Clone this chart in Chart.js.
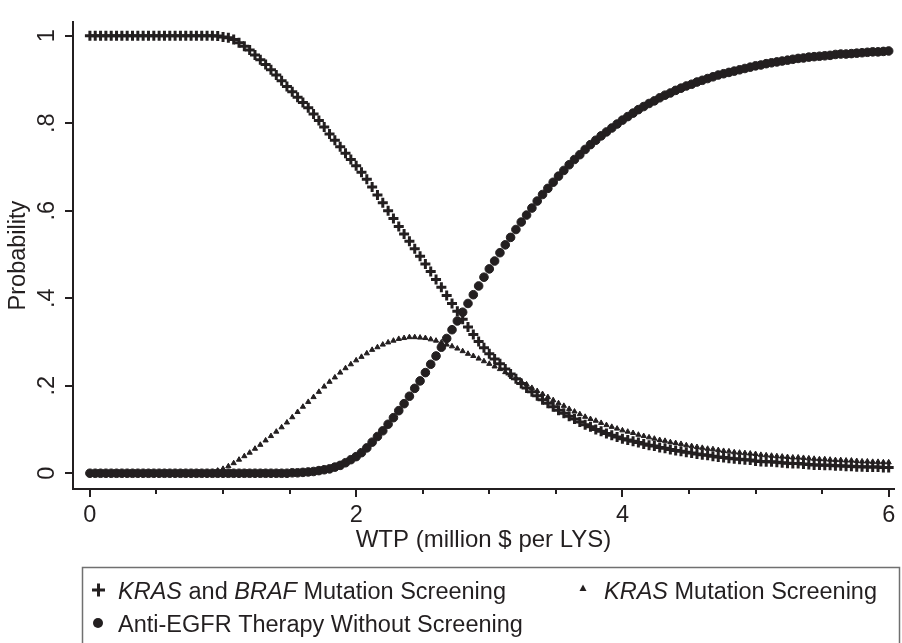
<!DOCTYPE html>
<html>
<head>
<meta charset="utf-8">
<script src="https://cdn.jsdelivr.net/npm/chart.js@4.4.1/dist/chart.umd.min.js"></script>
<style>
  body { margin: 0; background: #fff; }
  #wrap { width: 902px; height: 643px; position: relative; }
</style>
</head>
<body>
<div id="wrap"><canvas id="ceac"></canvas></div>
<script>
// WTP threshold (million $ per LYS)
const wtp = [
  0, 0.04, 0.08, 0.12, 0.16, 0.2, 0.24, 0.28, 0.32, 0.36, 0.4, 0.44, 0.48, 0.52, 0.56, 0.6, 0.64, 0.68, 0.72, 0.76, 0.8, 0.84, 0.88, 0.92, 0.96,
  1, 1.04, 1.08, 1.12, 1.16, 1.2, 1.24, 1.28, 1.32, 1.36, 1.4, 1.44, 1.48, 1.52, 1.56, 1.6, 1.64, 1.68, 1.72, 1.76, 1.8, 1.84, 1.88, 1.92, 1.96,
  2, 2.04, 2.08, 2.12, 2.16, 2.2, 2.24, 2.28, 2.32, 2.36, 2.4, 2.44, 2.48, 2.52, 2.56, 2.6, 2.64, 2.68, 2.72, 2.76, 2.8, 2.84, 2.88, 2.92, 2.96,
  3, 3.04, 3.08, 3.12, 3.16, 3.2, 3.24, 3.28, 3.32, 3.36, 3.4, 3.44, 3.48, 3.52, 3.56, 3.6, 3.64, 3.68, 3.72, 3.76, 3.8, 3.84, 3.88, 3.92, 3.96,
  4, 4.04, 4.08, 4.12, 4.16, 4.2, 4.24, 4.28, 4.32, 4.36, 4.4, 4.44, 4.48, 4.52, 4.56, 4.6, 4.64, 4.68, 4.72, 4.76, 4.8, 4.84, 4.88, 4.92, 4.96,
  5, 5.04, 5.08, 5.12, 5.16, 5.2, 5.24, 5.28, 5.32, 5.36, 5.4, 5.44, 5.48, 5.52, 5.56, 5.6, 5.64, 5.68, 5.72, 5.76, 5.8, 5.84, 5.88, 5.92, 5.96,
  6
];

// probability of being cost-effective
const krasBraf = [
  1, 1, 1, 1, 1, 1, 1, 1, 1, 1, 1, 1, 1, 1, 1, 1, 1, 1, 1, 1, 1, 1, 1, 1, 0.999,
  0.997, 0.995, 0.991, 0.984, 0.976, 0.967, 0.956, 0.945, 0.934, 0.922, 0.91, 0.897, 0.884, 0.872, 0.859, 0.847, 0.835, 0.821, 0.806, 0.791, 0.775, 0.761, 0.746, 0.731, 0.717,
  0.703, 0.688, 0.672, 0.654, 0.636, 0.618, 0.6, 0.582, 0.564, 0.547, 0.53, 0.513, 0.496, 0.478, 0.461, 0.443, 0.425, 0.406, 0.388, 0.37, 0.352, 0.334, 0.317, 0.301, 0.287,
  0.273, 0.261, 0.25, 0.238, 0.227, 0.216, 0.205, 0.195, 0.186, 0.177, 0.168, 0.16, 0.152, 0.144, 0.137, 0.13, 0.124, 0.117, 0.111, 0.106, 0.1, 0.096, 0.091, 0.087, 0.083,
  0.079, 0.076, 0.073, 0.07, 0.067, 0.064, 0.062, 0.059, 0.057, 0.054, 0.052, 0.05, 0.048, 0.046, 0.044, 0.042, 0.041, 0.039, 0.037, 0.036, 0.034, 0.033, 0.032, 0.031, 0.03,
  0.028, 0.027, 0.026, 0.026, 0.025, 0.024, 0.023, 0.022, 0.022, 0.021, 0.02, 0.019, 0.019, 0.018, 0.018, 0.017, 0.017, 0.016, 0.016, 0.015, 0.015, 0.014, 0.014, 0.014, 0.013,
  0.013
];
const kras = [
  0, 0, 0, 0, 0, 0, 0, 0, 0, 0, 0, 0, 0, 0, 0, 0, 0, 0, 0, 0, 0, 0, 0.001, 0.003, 0.006,
  0.01, 0.016, 0.023, 0.031, 0.039, 0.047, 0.056, 0.065, 0.075, 0.085, 0.095, 0.105, 0.116, 0.128, 0.14, 0.152, 0.163, 0.174, 0.186, 0.198, 0.209, 0.219, 0.23, 0.24, 0.249,
  0.258, 0.266, 0.274, 0.282, 0.288, 0.294, 0.299, 0.303, 0.307, 0.309, 0.311, 0.311, 0.31, 0.309, 0.306, 0.303, 0.299, 0.294, 0.29, 0.285, 0.279, 0.273, 0.268, 0.262, 0.256,
  0.25, 0.244, 0.238, 0.231, 0.224, 0.217, 0.21, 0.203, 0.195, 0.188, 0.181, 0.174, 0.167, 0.16, 0.154, 0.147, 0.141, 0.135, 0.129, 0.124, 0.12, 0.115, 0.11, 0.106, 0.102,
  0.098, 0.095, 0.092, 0.088, 0.085, 0.082, 0.079, 0.076, 0.074, 0.071, 0.069, 0.067, 0.064, 0.062, 0.06, 0.058, 0.056, 0.055, 0.053, 0.051, 0.05, 0.048, 0.047, 0.046, 0.045,
  0.044, 0.042, 0.041, 0.04, 0.039, 0.038, 0.037, 0.036, 0.036, 0.035, 0.034, 0.033, 0.032, 0.032, 0.031, 0.03, 0.03, 0.029, 0.029, 0.028, 0.027, 0.027, 0.026, 0.026, 0.025,
  0.025
];
const antiEgfr = [
  0, 0, 0, 0, 0, 0, 0, 0, 0, 0, 0, 0, 0, 0, 0, 0, 0, 0, 0, 0, 0, 0, 0, 0, 0,
  0, 0, 0, 0, 0, 0, 0, 0, 0, 0, 0, 0, 0, 0.001, 0.001, 0.002, 0.003, 0.004, 0.006, 0.008, 0.01, 0.014, 0.018, 0.024, 0.031,
  0.038, 0.047, 0.058, 0.071, 0.084, 0.097, 0.112, 0.127, 0.143, 0.159, 0.176, 0.194, 0.211, 0.23, 0.249, 0.268, 0.288, 0.308, 0.328, 0.348, 0.368, 0.388, 0.408, 0.428, 0.448,
  0.467, 0.485, 0.504, 0.522, 0.539, 0.557, 0.574, 0.59, 0.606, 0.622, 0.637, 0.651, 0.665, 0.679, 0.692, 0.705, 0.717, 0.728, 0.74, 0.751, 0.761, 0.771, 0.78, 0.789, 0.798,
  0.807, 0.815, 0.823, 0.831, 0.838, 0.845, 0.851, 0.858, 0.864, 0.869, 0.875, 0.88, 0.885, 0.889, 0.894, 0.898, 0.902, 0.906, 0.91, 0.913, 0.916, 0.919, 0.922, 0.925, 0.928,
  0.931, 0.933, 0.936, 0.938, 0.94, 0.942, 0.944, 0.946, 0.948, 0.949, 0.951, 0.952, 0.953, 0.954, 0.955, 0.957, 0.958, 0.958, 0.959, 0.96, 0.961, 0.962, 0.963, 0.963, 0.964,
  0.965
];

const xTicks = [0, 2, 4, 6];
const xMinorTicks = [0.5, 1, 1.5, 2.5, 3, 3.5, 4.5, 5, 5.5];
const yTicks = [0, 0.2, 0.4, 0.6, 0.8, 1];
const yTickLabels = ['0', '.2', '.4', '.6', '.8', '1'];

const ink = '#231f20';
const fontFamily = '"Liberation Sans", Arial, Helvetica, sans-serif';

function pts(ys) {
  return wtp.map((x, i) => ({ x: x, y: ys[i] }));
}

// Stata-style minor ticks on the x axis
const minorTicks = {
  id: 'minorTicks',
  afterDraw(chart) {
    const ctx = chart.ctx;
    const sx = chart.scales.x;
    ctx.save();
    ctx.strokeStyle = ink;
    ctx.lineWidth = 2;
    xMinorTicks.forEach(v => {
      const px = Math.round(sx.getPixelForValue(v));
      ctx.beginPath();
      ctx.moveTo(px, sx.top);
      ctx.lineTo(px, sx.top + 5);
      ctx.stroke();
    });
    ctx.restore();
  }
};

// legend box below the plot (mixed italic text)
function richText(ctx, parts, x, y) {
  parts.forEach(p => {
    ctx.font = (p[1] ? 'italic ' : '') + '23.5px ' + fontFamily;
    ctx.fillText(p[0], x, y);
    x += ctx.measureText(p[0]).width;
  });
}

const legendBox = {
  id: 'legendBox',
  afterDraw(chart) {
    const ctx = chart.ctx;
    ctx.save();
    ctx.strokeStyle = '#707070';
    ctx.lineWidth = 1.5;
    ctx.strokeRect(82.5, 567.5, 817, 120);

    ctx.fillStyle = ink;
    ctx.strokeStyle = ink;
    ctx.textBaseline = 'alphabetic';

    // plus
    ctx.lineWidth = 3;
    ctx.beginPath();
    ctx.moveTo(92, 590); ctx.lineTo(105, 590);
    ctx.moveTo(98.5, 583.5); ctx.lineTo(98.5, 596.5);
    ctx.stroke();
    richText(ctx, [['KRAS', true], [' and ', false], ['BRAF', true], [' Mutation Screening', false]], 118, 599);

    // triangle
    ctx.beginPath();
    ctx.moveTo(583, 584.5); ctx.lineTo(586.5, 591); ctx.lineTo(579.5, 591);
    ctx.closePath();
    ctx.fill();
    richText(ctx, [['KRAS', true], [' Mutation Screening', false]], 604, 599);

    // circle
    ctx.beginPath();
    ctx.arc(98, 623, 5, 0, Math.PI * 2);
    ctx.fill();
    richText(ctx, [['Anti-EGFR Therapy Without Screening', false]], 118, 632);
    ctx.restore();
  }
};

new Chart(document.getElementById('ceac'), {
  type: 'scatter',
  data: {
    datasets: [
      {
        label: 'KRAS and BRAF Mutation Screening',
        data: pts(krasBraf),
        pointStyle: 'cross',
        pointRadius: 5,
        pointBorderWidth: 3,
        borderColor: ink,
        backgroundColor: ink,
        order: 1
      },
      {
        label: 'Anti-EGFR Therapy Without Screening',
        data: pts(antiEgfr),
        pointStyle: 'circle',
        pointRadius: 4.3,
        pointBorderWidth: 1,
        borderColor: ink,
        backgroundColor: ink,
        order: 0
      },
      {
        label: 'KRAS Mutation Screening',
        data: pts(kras),
        pointStyle: 'triangle',
        pointRadius: 3,
        pointBorderWidth: 1,
        borderColor: ink,
        backgroundColor: ink,
        order: 2
      }
    ]
  },
  options: {
    responsive: true,
    maintainAspectRatio: false,
    animation: false,
    layout: { padding: { top: 10, right: 2, bottom: 80, left: 0 } },
    plugins: {
      legend: { display: false },
      tooltip: { enabled: false }
    },
    scales: {
      x: {
        type: 'linear',
        min: -0.127,
        max: 6.04,
        afterBuildTicks: s => { s.ticks = xTicks.map(v => ({ value: v })); },
        afterFit: s => { s.height = 74; },
        grid: { drawOnChartArea: false, drawTicks: true, tickLength: 8, color: ink, lineWidth: 2 },
        border: { display: true, color: ink, width: 2 },
        ticks: { color: ink, padding: 4, font: { family: fontFamily, size: 23.5 }, maxRotation: 0 },
        title: {
          display: true,
          text: 'WTP (million $ per LYS)',
          color: ink,
          font: { family: fontFamily, size: 24 },
          padding: { top: 0, bottom: 8 }
        }
      },
      y: {
        type: 'linear',
        min: -0.036,
        max: 1.031,
        afterBuildTicks: s => { s.ticks = yTicks.map(v => ({ value: v })); },
        afterFit: s => { s.width = 73; },
        grid: { drawOnChartArea: false, drawTicks: true, tickLength: 8, color: ink, lineWidth: 2 },
        border: { display: true, color: ink, width: 2 },
        ticks: {
          color: ink,
          padding: 8,
          crossAlign: 'center',
          minRotation: 90,
          maxRotation: 90,
          font: { family: fontFamily, size: 23.5 },
          callback: (v) => yTickLabels[yTicks.indexOf(v)]
        },
        title: {
          display: true,
          text: 'Probability',
          color: ink,
          font: { family: fontFamily, size: 23.5 },
          padding: { top: 4, bottom: 0 }
        }
      }
    }
  },
  plugins: [minorTicks, legendBox]
});
</script>
</body>
</html>
